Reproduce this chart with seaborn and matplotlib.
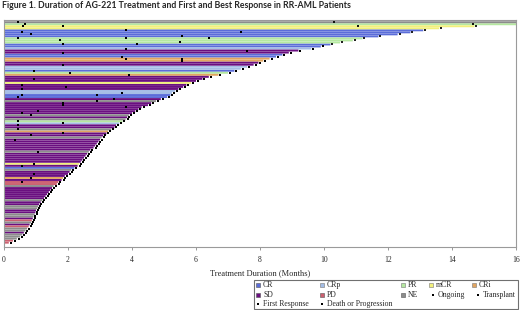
import matplotlib
matplotlib.use("Agg")
import matplotlib.pyplot as plt
import seaborn as sns
import pandas as pd
from matplotlib.patches import Rectangle

# ---------------- data ----------------
durations = [16.0, 16.0, 14.7, 13.6, 13.1, 12.7, 12.3, 11.7, 11.2, 10.9,
             10.5, 10.2, 9.9, 9.6, 9.2, 8.9, 8.7, 8.5, 8.3, 8.1,
             7.95, 7.8, 7.6, 7.4, 7.2, 7.0, 6.7, 6.4, 6.2, 6.0,
             5.85, 5.7, 5.6, 5.45, 5.35, 5.25, 5.2, 5.1, 4.9, 4.75,
             4.6, 4.5, 4.3, 4.2, 4.1, 4.0, 3.9, 3.85, 3.8, 3.7,
             3.6, 3.5, 3.45, 3.35, 3.25, 3.2, 3.1, 3.05, 3.0, 2.95,
             2.9, 2.85, 2.8, 2.7, 2.65, 2.6, 2.55, 2.5, 2.45, 2.4,
             2.35, 2.3, 2.2, 2.1, 2.05, 2.0, 1.9, 1.85, 1.8, 1.7,
             1.65, 1.55, 1.5, 1.45, 1.4, 1.35, 1.3, 1.25, 1.2, 1.15,
             1.1, 1.07, 1.04, 1.0, 0.98, 0.96, 0.92, 0.9, 0.87, 0.85,
             0.8, 0.77, 0.72, 0.67, 0.62, 0.57, 0.5, 0.4, 0.28, 0.15]

best_response = ["NE", "PR", "mCR", "mCR", "CR", "CR", "CR", "CR", "PR", "PR",
                 "PR", "CR", "CR", "CRp", "SD", "SD", "CR", "CR", "CRi", "CRi",
                 "SD", "SD", "CRp", "CRp", "CR", "PR", "CRi", "SD", "SD", "SD",
                 "mCR", "SD", "SD", "SD", "CRp", "CRp", "CR", "CR", "SD", "NE",
                 "SD", "SD", "SD", "SD", "SD", "SD", "NE", "SD", "NE", "PR",
                 "CRp", "SD", "SD", "NE", "CRi", "SD", "SD", "NE", "SD", "SD",
                 "SD", "SD", "SD", "SD", "NE", "SD", "SD", "SD", "SD", "SD",
                 "mCR", "SD", "CR", "NE", "SD", "SD", "SD", "CRi", "SD", "PD",
                 "PD", "NE", "SD", "SD", "SD", "SD", "SD", "SD", "NE", "SD",
                 "SD", "NE", "NE", "SD", "SD", "NE", "NE", "SD", "PD", "NE",
                 "SD", "PD", "NE", "NE", "SD", "NE", "NE", "NE", "PD", "PD"]

first_resp_patient = [0, 1, 2, 2, 4, 5, 6, 7, 5, 8, 9, 8, 11, 10, 8, 11, 13, 15, 14,
                      17, 18, 18, 19, 21, 24, 25, 26, 28, 31, 32, 33, 35, 36, 37,
                      36, 38, 39, 40, 42, 41, 44, 45, 46, 49, 50, 51, 53, 55, 56,
                      58, 64, 70, 71, 75, 77, 79]
first_resp_month = [0.45, 0.65, 0.6, 1.85, 3.8, 0.55, 0.85, 5.55, 7.4, 0.45, 1.75,
                    3.8, 4.15, 5.5, 6.4, 1.85, 3.8, 1.85, 7.6, 3.7, 3.8, 5.55,
                    5.55, 1.85, 0.95, 2.05, 3.9, 0.95, 0.55, 1.95, 0.55, 3.7,
                    0.55, 0.45, 2.9, 3.45, 2.9, 1.85, 3.8, 1.85, 1.05, 0.55,
                    0.85, 0.45, 1.85, 0.45, 0.45, 1.85, 0.85, 0.35, 1.05, 0.95,
                    0.55, 0.95, 0.85, 0.55]

transplant_patient = [0, 1, 2]
transplant_month = [10.3, 14.65, 11.05]

ongoing_patient = [0, 1, 2, 3, 4, 5, 6, 7, 8, 9, 10, 11]
event_patient = [12, 13, 14, 15, 16, 17, 18, 19, 20, 21, 22, 23, 24, 25, 26, 27,
                 28, 29, 30, 31, 32, 33, 34, 35, 36, 37, 38, 39, 40, 41, 42, 43,
                 44, 45, 46, 47, 48, 49, 50, 51, 52, 53, 54, 55, 56, 57, 58, 59,
                 60, 61, 62, 63, 64, 65, 66, 67, 68, 69, 70, 71, 72, 73, 74, 75,
                 76, 77, 78, 79, 80, 81, 82, 83, 84, 85, 86, 87, 88, 89, 90, 91,
                 92, 93, 94, 95, 96, 97, 98, 99, 100, 101, 102, 103, 104, 105,
                 106, 107, 108, 109]

x_ticks = [0, 2, 4, 6, 8, 10, 12, 14, 16]
x_label = "Treatment Duration (Months)"
title = "Figure 1. Duration of AG-221 Treatment and First and Best Response in RR-AML Patients"

response_order = ["CR", "CRp", "PR", "mCR", "CRi", "SD", "PD", "NE"]
response_colors = {"CR": "#5b6dd9", "CRp": "#a4bde6", "PR": "#b5e8a0",
                   "mCR": "#f2f07a", "CRi": "#e2a560", "SD": "#6a0f80",
                   "PD": "#cc6070", "NE": "#8c8c8c"}

# ---------------- figure ----------------
sns.set_theme(style="white")
plt.rcParams["font.family"] = ["Liberation Serif", "DejaVu Serif"]

W, H = 520, 310
fig = plt.figure(figsize=(W / 100, H / 100), dpi=100)
ax = fig.add_axes([4 / W, 1 - 246.5 / H, 512 / W, 226.5 / H])

n = len(durations)
df = pd.DataFrame({"patient": list(range(n)), "months": durations,
                   "response": best_response})
for resp in response_order:
    sub = df[df["response"] == resp]
    sns.barplot(data=sub, x="months", y="patient", orient="h", native_scale=True,
                color=response_colors[resp], saturation=1, width=0.96,
                errorbar=None, ax=ax, linewidth=0, snap=False)

# markers
fr = pd.DataFrame({"m": first_resp_month, "p": first_resp_patient})
sns.scatterplot(data=fr, x="m", y="p", marker="s", s=2.2, color="black",
                linewidth=0, ax=ax, zorder=5)
tp = pd.DataFrame({"m": transplant_month, "p": transplant_patient})
sns.scatterplot(data=tp, x="m", y="p", marker="s", s=2.2, color="#111111",
                linewidth=0, ax=ax, zorder=5)
og = pd.DataFrame({"m": [durations[i] + 0.06 for i in ongoing_patient],
                   "p": ongoing_patient})
sns.scatterplot(data=og, x="m", y="p", marker="s", s=1.8, color="#222222",
                linewidth=0, ax=ax, zorder=5)
ev = pd.DataFrame({"m": [durations[i] + 0.06 for i in event_patient],
                   "p": event_patient})
sns.scatterplot(data=ev, x="m", y="p", marker="s", s=2.2, color="black",
                linewidth=0, ax=ax, zorder=5)

ax.set_xlim(0, 16)
ax.set_ylim(n + 0.9, -1.1)
ax.set_yticks([])
ax.set_ylabel("")
ax.set_xticks(x_ticks)
ax.set_xticklabels([str(t) for t in x_ticks], fontsize=5.5)
ax.tick_params(axis="x", length=2.5, width=0.6, color="#888888", pad=4,
               direction="out", bottom=True)
ax.set_xlabel(x_label, fontsize=6, labelpad=4)
for s in ax.spines.values():
    s.set_color("#9a9a9a")
    s.set_linewidth(0.8)

fig.text(2 / W, 1 - 5 / H, title, fontsize=6.3, fontweight="bold",
         family=["Lato", "DejaVu Sans"], ha="left", va="center")

# ---------------- legend (manual) ----------------
def px(x, y):
    return x / W, 1 - y / H

fig.add_artist(Rectangle(px(254, 309), 264 / W, 29 / H, transform=fig.transFigure,
                         fill=False, edgecolor="#707070", linewidth=0.8))

sq_items = [("CR", 258, 285, True), ("CRp", 322, 285, False), ("PR", 403, 285, False),
            ("mCR", 431, 285, False), ("CRi", 474, 285, False),
            ("SD", 258, 295, True), ("PD", 322, 295, True), ("NE", 403, 295, True)]
for lab, x, y, filled in sq_items:
    c = response_colors[lab]
    ec = "#555555" if filled else "#777777"
    fig.add_artist(Rectangle(px(x - 2, y + 2), 4 / W, 4 / H, transform=fig.transFigure,
                             facecolor=c, edgecolor=ec, linewidth=0.4))
    fig.text(*px(x + 5, y), lab, fontsize=5.6, ha="left", va="center")

dot_items = [("Ongoing", 433, 295), ("Transplant", 478, 295),
             ("First Response", 258, 304), ("Death or Progression", 322, 304)]
for lab, x, y in dot_items:
    fig.add_artist(Rectangle(px(x - 0.8, y + 0.8), 1.6 / W, 1.6 / H,
                             transform=fig.transFigure, facecolor="black",
                             edgecolor="none"))
    fig.text(*px(x + 5, y), lab, fontsize=5.6, ha="left", va="center")

fig.savefig("out.png", dpi=100)
